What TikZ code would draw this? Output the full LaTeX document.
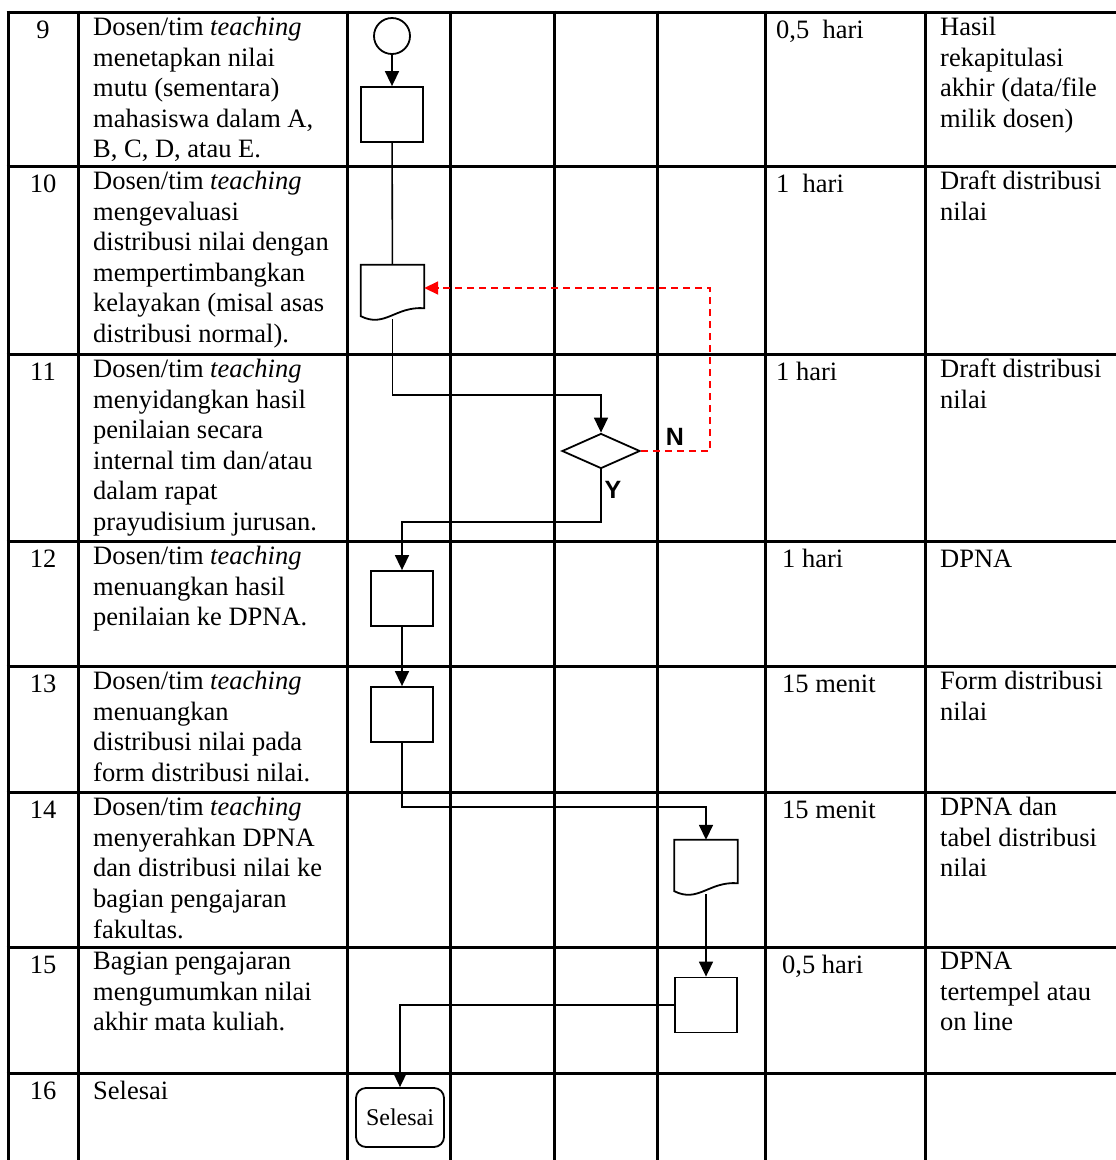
\documentclass[tikz,border=0pt]{standalone}
\usepackage{fontspec}
\setmainfont{Liberation Serif}
\newfontfamily\yesnofont{Liberation Sans}
\usepackage{tikz}
\usetikzlibrary{positioning, arrows.meta, shapes.geometric, calc}

% document symbol: box with a wavy lower edge, drawn round a named node
\newcommand{\docoutline}[1]{%
  \draw[line width=1.8pt] ($(#1.south west)+(0,-3)$) -- (#1.north west) -- (#1.north east)
    -- ($(#1.south east)+(0,-11)$)
    .. controls ($(#1.south east)+(-29,-13)$) and ($(#1.south west)+(24,9)$) .. ($(#1.south west)+(0,-3)$) -- cycle;}

\begin{document}
\begin{tikzpicture}[
    x=1pt, y=-1pt,
    grid/.style={line width=3pt, black},
    cell/.style={anchor=north west, inner sep=0pt, align=left, font=\fontsize{26.5}{30.6}\selectfont, execute at begin node=\strut},
    numcell/.style={cell, anchor=north, align=center},
    procbox/.style={draw, line width=1.8pt, minimum width=62pt, minimum height=55pt, inner sep=0pt},
    docbox/.style={minimum width=63pt, minimum height=54pt, inner sep=0pt},
    startnode/.style={draw, circle, line width=1.8pt, minimum size=36pt, inner sep=0pt},
    decision/.style={draw, diamond, line width=1.8pt, minimum width=78pt, minimum height=35pt, inner sep=0pt, aspect=2.2},
    endbox/.style={draw, rounded corners=10pt, line width=1.8pt, minimum width=88pt, minimum height=59pt, inner sep=0pt, font=\fontsize{24}{28}\selectfont},
    flow/.style={line width=1.6pt, -{Triangle[length=15pt, width=14pt]}},
    link/.style={line width=1.6pt},
    back/.style={red, dash pattern=on 7pt off 5pt, line width=1.8pt, -{Triangle[length=14pt, width=13pt]}},
    yn/.style={font=\yesnofont\fontsize{25}{30}\selectfont\bfseries, inner sep=0pt}
]
\useasboundingbox (0,0) rectangle (1116,1160);

% Table grid
\foreach \x in {8,78,347,450,554,657,765,925}
    \draw[grid] (\x,10.5) -- (\x,1160);
\foreach \y in {12,166,354,541,666,792,947,1073}
    \draw[grid] (6.5,\y) -- (1116,\y);

% Row numbers
\node[numcell] (n9)  at (43,17)   {9};
\node[numcell] (n10) at (43,171)  {10};
\node[numcell] (n11) at (43,359)  {11};
\node[numcell] (n12) at (43,546)  {12};
\node[numcell] (n13) at (43,671)  {13};
\node[numcell] (n14) at (43,797)  {14};
\node[numcell] (n15) at (43,952)  {15};
\node[numcell] (n16) at (43,1078) {16};

% Activities
\node[cell] (act9)  at (93,17)   {Dosen/tim \textit{teaching}\\menetapkan nilai\\mutu (sementara)\\mahasiswa dalam A,\\B, C, D, atau E.};
\node[cell] (act10) at (93,171)  {Dosen/tim \textit{teaching}\\mengevaluasi\\distribusi nilai dengan\\mempertimbangkan\\kelayakan (misal asas\\distribusi normal).};
\node[cell] (act11) at (93,359)  {Dosen/tim \textit{teaching}\\menyidangkan hasil\\penilaian secara\\internal tim dan/atau\\dalam rapat\\prayudisium jurusan.};
\node[cell] (act12) at (93,546)  {Dosen/tim \textit{teaching}\\menuangkan hasil\\penilaian ke DPNA.};
\node[cell] (act13) at (93,671)  {Dosen/tim \textit{teaching}\\menuangkan\\distribusi nilai pada\\form distribusi nilai.};
\node[cell] (act14) at (93,797)  {Dosen/tim \textit{teaching}\\menyerahkan DPNA\\dan distribusi nilai ke\\bagian pengajaran\\fakultas.};
\node[cell] (act15) at (93,952)  {Bagian pengajaran\\mengumumkan nilai\\akhir mata kuliah.};
\node[cell] (act16) at (93,1078) {Selesai};

% Time
\node[cell] (time9)  at (776,17)  {0,5~~hari};
\node[cell] (time10) at (776,171) {1~~hari};
\node[cell] (time11) at (776,359) {1 hari};
\node[cell] (time12) at (782,546) {1 hari};
\node[cell] (time13) at (782,671) {15 menit};
\node[cell] (time14) at (782,797) {15 menit};
\node[cell] (time15) at (782,952) {0,5 hari};

% Output
\node[cell] (out9)  at (940,17)  {Hasil\\rekapitulasi\\akhir (data/file\\milik dosen)};
\node[cell] (out10) at (940,171) {Draft distribusi\\nilai};
\node[cell] (out11) at (940,359) {Draft distribusi\\nilai};
\node[cell] (out12) at (940,546) {DPNA};
\node[cell] (out13) at (940,671) {Form distribusi\\nilai};
\node[cell] (out14) at (940,797) {DPNA dan\\tabel distribusi\\nilai};
\node[cell] (out15) at (940,952) {DPNA\\tertempel atau\\on line};

% Flow symbols
\node[startnode] (start9) at (392,36) {};
\node[procbox] (proc9) at (392,114.5) {};
\node[docbox] (doc10) at (392.5,292) {};
\docoutline{doc10}
\node[decision] (check11) at (601,451) {};
\node[procbox] (proc12) at (402,598.5) {};
\node[procbox] (proc13) at (402,714.5) {};
\node[docbox] (doc14) at (706,867) {};
\docoutline{doc14}
\node[procbox] (proc15) at (706,1005) {};
\node[endbox] (finish16) at (400,1117.5) {Selesai};

% Connectors
\draw[flow] (start9) -- (proc9);
\draw[link] (proc9) -- (doc10);
\draw[flow] (doc10.south) -- ++(0,76) -| (check11.north);
\draw[back] (check11.east) -- ++(69,0) coordinate (nturn) |- ($(doc10.east)+(0,-4)$);
\node[yn] (nlabel) at (675,437) {N};
\node[yn] (ylabel) at (613,490) {Y};
\draw[flow] (check11.south) -- ++(0,52.5) -| (proc12.north);
\draw[flow] (proc12) -- (proc13);
\draw[flow] (proc13.south) -- ++(0,64) -| (doc14.north);
\draw[flow] (doc14.south) -- (proc15.north);
\draw[flow] (proc15.west) -| (finish16.north);

\end{tikzpicture}
\end{document}
